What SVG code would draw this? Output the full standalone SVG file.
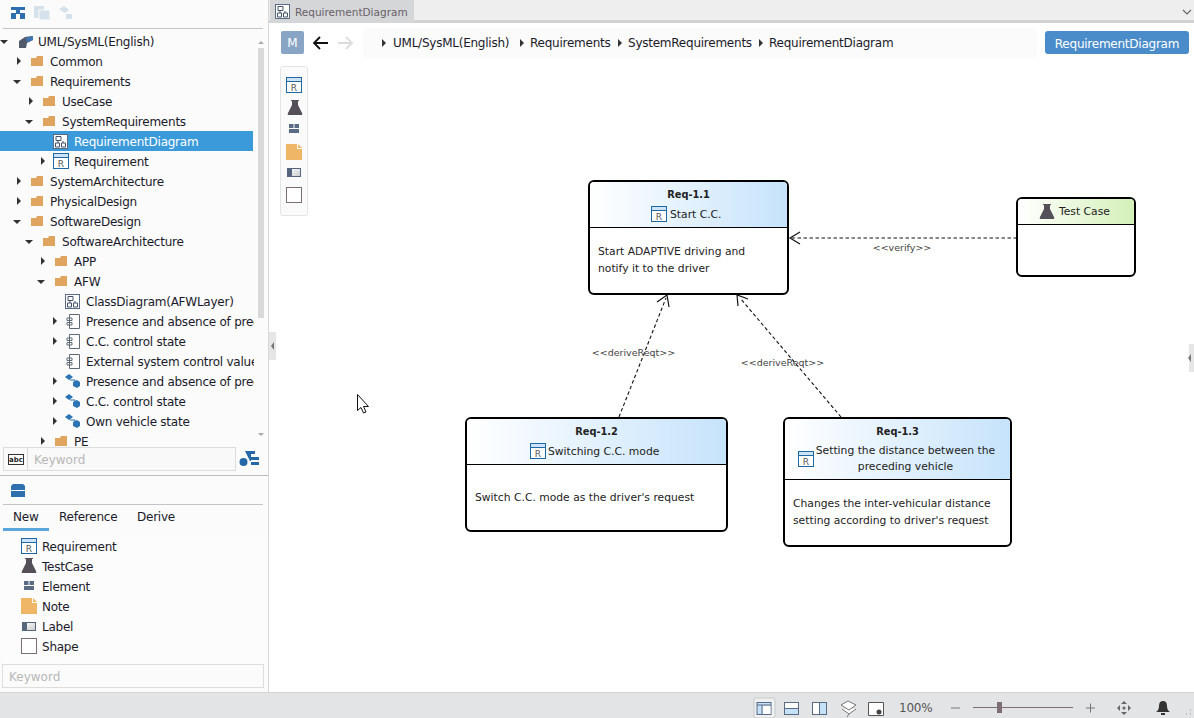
<svg xmlns="http://www.w3.org/2000/svg" width="1194" height="718" viewBox="0 0 1194 718">
<style>
text{font-family:"DejaVu Sans","Liberation Sans",sans-serif;font-size:12px;fill:#1a1a2a}
.t{font-size:12px;letter-spacing:-.24px}
.w{fill:#fff}
.ph{fill:#b8b8b8}
.n{font-size:10.75px;fill:#222}
.h{font-size:10.75px;fill:#222}
.b{font-size:9.8px;font-weight:bold;fill:#222}
.lab{font-size:9.5px;fill:#444;text-anchor:middle}
.m{text-anchor:middle}
.box{fill:#fff;stroke:#000;stroke-width:2}
.sep{stroke:#000;stroke-width:1}
.dash{fill:none;stroke:#111;stroke-width:1.1;stroke-dasharray:3.5 2.5}
.head{fill:none;stroke:#111;stroke-width:1.2}
</style>
<defs>
<linearGradient id="gb" x1="0" x2="1" y1="0" y2="0"><stop offset="0" stop-color="#fff"/><stop offset="1" stop-color="#c6e3fb"/></linearGradient>
<linearGradient id="gg" x1="0" x2="1" y1="0" y2="0"><stop offset="0" stop-color="#fff"/><stop offset="1" stop-color="#d4f0b8"/></linearGradient>
<linearGradient id="lg" x1="0" x2="1" y1="0" y2="1"><stop offset="0" stop-color="#fff"/><stop offset="1" stop-color="#ccc"/></linearGradient>
<symbol id="folder" overflow="visible"><path d="M0 3h5l1-2h6v10H0z" fill="#dfa55f"/></symbol>
<symbol id="right" overflow="visible"><path d="M0-4 4 0 0 4z" fill="#333"/></symbol>
<symbol id="down" overflow="visible"><path d="M-4-2H4L0 2z" fill="#333"/></symbol>
<symbol id="req" overflow="visible"><rect x=".5" y=".5" width="15" height="15" fill="#fff" stroke="#1d69a8"/><rect x="1" y="1" width="14" height="3" fill="#cfe3f4"/><path d="M1 4.500h14" stroke="#1d69a8"/><text x="8" y="14" class="m" style="font-size:9px;fill:#555">R</text></symbol>
<symbol id="flask" overflow="visible"><path d="M4 0h8v1h-1v4l4 8q1 2-1 2H2q-2 0-1-2l4-8V1H4z" fill="#544f58"/></symbol>
<symbol id="elem" overflow="visible"><path d="M0 0h4.500v4H0zM5.500 0h4.500v4H5.500zM0 5h10v4H0z" fill="#5a6b85"/></symbol>
<symbol id="note" overflow="visible"><path d="M0 0h11v5h5v11H0zM12 0l4 4h-4z" fill="#efb665"/></symbol>
<symbol id="label" overflow="visible"><rect x=".5" y=".5" width="13" height="8" fill="url(#lg)" stroke="#56667f"/><rect width="5" height="9" fill="#56667f"/></symbol>
<symbol id="shape" overflow="visible"><rect x=".5" y=".5" width="15" height="15" fill="#fff" stroke="#7d6d75"/></symbol>
<symbol id="diag" overflow="visible"><rect x=".5" y=".5" width="14" height="14" fill="#fff" stroke="#5a6b85"/><path d="M3 2.500h5v4H3zM2.500 9h4v4h-4zM8.500 9h4v4h-4zM5 6.500V9M10 7v2" fill="none" stroke="#44546c"/></symbol>
<symbol id="comp" overflow="visible"><path d="M3.500 .5h10v14h-10zM1 4h5v2.500H1zM1 8.500h5V11H1z" fill="#fff" stroke="#5f6a78"/></symbol>
<symbol id="pkg" overflow="visible"><path d="M0 3 4 0l4 3-4 3zM8 8l4-2 3 2v4l-3 2-4-2z" fill="#2c74b3"/><path d="M5 6h5v3" fill="none" stroke="#2c74b3"/></symbol>
</defs>

<rect width="1194" height="718" fill="#fff"/>

<g id="left-panel">
<rect width="268" height="692" fill="#fbfbfb"/>
<path d="M11 7h14v3h-5v3h5v6h-5v-5h-4v5h-5v-6h5v-3h-5z" fill="#2e6fb0"/>
<g opacity=".35" fill="#8fb3cf"><rect x="34" y="6" width="10" height="12"/><rect x="39" y="10" width="11" height="10" stroke="#fff"/><path d="M59 9l5-3 5 4-4 3zM66 14h6v5h-6z"/></g>
<path d="M3 28.500h260" stroke="#c4c4c4"/>
<rect x="0" y="131" width="253" height="20" fill="#3b9ad9"/>
<rect x="258" y="48" width="6" height="270" fill="#d9d9d9"/>
<path d="M258 44h6l-3-3zM258 433h6l-3 3z" fill="#aaa"/>

<g id="tree-icons">
<use href="#down" x="4" y="42"/>
<path d="M19 41l6-4 7-1 1 4-6 3-1 5-7 0z" fill="#505a6b"/><path d="M26 38l7-2 0 4-6 2z" fill="#3d78b5"/>
<use href="#right" x="17" y="61"/><use href="#folder" x="31" y="55"/>
<use href="#down" x="17" y="82"/><use href="#folder" x="31" y="75"/>
<use href="#right" x="29" y="101"/><use href="#folder" x="43" y="95"/>
<use href="#down" x="29" y="122"/><use href="#folder" x="43" y="115"/>
<use href="#diag" x="53" y="134"/>
<use href="#right" x="41" y="161"/><use href="#req" x="53" y="153"/>
<use href="#right" x="17" y="181"/><use href="#folder" x="31" y="175"/>
<use href="#right" x="17" y="201"/><use href="#folder" x="31" y="195"/>
<use href="#down" x="17" y="222"/><use href="#folder" x="31" y="215"/>
<use href="#down" x="29" y="242"/><use href="#folder" x="43" y="235"/>
<use href="#right" x="41" y="261"/><use href="#folder" x="55" y="255"/>
<use href="#down" x="41" y="282"/><use href="#folder" x="55" y="275"/>
<use href="#diag" x="65" y="294"/>
<use href="#right" x="53" y="321"/><use href="#comp" x="66" y="314"/>
<use href="#right" x="53" y="341"/><use href="#comp" x="66" y="334"/>
<use href="#comp" x="66" y="354"/>
<use href="#right" x="53" y="381"/><use href="#pkg" x="65" y="374"/>
<use href="#right" x="53" y="401"/><use href="#pkg" x="65" y="394"/>
<use href="#right" x="53" y="421"/><use href="#pkg" x="65" y="414"/>
<use href="#right" x="41" y="441"/><use href="#folder" x="55" y="435"/>
</g>
<g id="tree-text">
<text class="t" x="38" y="46">UML/SysML(English)</text>
<text class="t" x="50" y="66">Common</text>
<text class="t" x="50" y="86">Requirements</text>
<text class="t" x="62" y="106">UseCase</text>
<text class="t" x="62" y="126">SystemRequirements</text>
<text class="t w" x="74" y="146">RequirementDiagram</text>
<text class="t" x="74" y="166">Requirement</text>
<text class="t" x="50" y="186">SystemArchitecture</text>
<text class="t" x="50" y="206">PhysicalDesign</text>
<text class="t" x="50" y="226">SoftwareDesign</text>
<text class="t" x="62" y="246">SoftwareArchitecture</text>
<text class="t" x="74" y="266">APP</text>
<text class="t" x="74" y="286">AFW</text>
<text class="t" x="86" y="306">ClassDiagram(AFWLayer)</text>
<svg x="0" y="310" width="254" height="125" viewBox="0 310 254 125">
<text class="t" x="86" y="326">Presence and absence of preceding vehicle</text>
<text class="t" x="86" y="346">C.C. control state</text>
<text class="t" x="86" y="366">External system control value</text>
<text class="t" x="86" y="386">Presence and absence of preceding vehicle</text>
<text class="t" x="86" y="406">C.C. control state</text>
<text class="t" x="86" y="426">Own vehicle state</text>
</svg>
<text class="t" x="74" y="446">PE</text>
</g>

<rect y="446" width="268" height="30" fill="#fbfbfb"/>
<rect x="3.500" y="447.500" width="232" height="23" fill="#f8f9f8" stroke="#ddd"/>
<path d="M27.500 448v22" stroke="#ddd"/>
<rect x="8.500" y="454.500" width="15" height="10" fill="#fff" stroke="#333"/>
<text x="16" y="462" class="m" style="font-size:7px;font-weight:bold;fill:#222">abc</text>
<text class="ph" x="34" y="464">Keyword</text>
<path d="M245 451h10v3h-4v3h8v3h-8v2h8v3h-8v-4h-1M243.500 458a4 4 0 1 1 0 8a4 4 0 1 1 0-8z" fill="#2468a8"/>
<path d="M0 475.500h268" stroke="#bcbcbc"/>
<path d="M11 486l2-2h10l2 2v11H11z" fill="#2e6fb0"/><path d="M11 490.500h14" stroke="#fff"/>
<path d="M3 504.500h260" stroke="#c4c4c4"/>
<text class="t" x="13" y="521">New</text>
<text class="t" x="59" y="521">Reference</text>
<text class="t" x="137" y="521">Derive</text>
<rect x="3" y="528" width="46" height="3" fill="#5aa5dc"/>
</g>

<g id="toolbox-list">
<rect x="2" y="535" width="264" height="128" fill="#fcfcfc"/>
<use href="#req" x="21" y="538"/><text class="t" x="42" y="551">Requirement</text>
<use href="#flask" x="21" y="558"/><text class="t" x="42" y="571">TestCase</text>
<use href="#elem" x="24" y="581"/><text class="t" x="42" y="591">Element</text>
<use href="#note" x="21" y="598"/><text class="t" x="42" y="611">Note</text>
<use href="#label" x="22" y="622"/><text class="t" x="42" y="631">Label</text>
<use href="#shape" x="21" y="638"/><text class="t" x="42" y="651">Shape</text>
<rect x="2.500" y="664.500" width="261" height="23" fill="#fbfbfb" stroke="#ddd"/>
<text class="ph" x="9" y="681">Keyword</text>
</g>

<g id="top-bar">
<rect x="268" y="0" width="926" height="20" fill="#eee"/>
<rect x="268" y="20" width="926" height="3" fill="#d2d2d2"/>
<rect x="270" y="0" width="144" height="23" fill="#d4d6d8"/>
<use href="#diag" x="275" y="4"/>
<text x="295" y="16" style="font-size:10.5px;fill:#6b5f68">RequirementDiagram</text>
<path d="M1183 10l4 4 4-4" fill="none" stroke="#666" stroke-width="1.200"/>
<rect x="281" y="31" width="23" height="23" rx="2" fill="#88a5c6"/>
<text x="292.500" y="47" class="m w">M</text>
<path d="M328 43h-14M320 37l-6 6 6 6" fill="none" stroke="#111" stroke-width="1.800"/>
<path d="M338 43h14M346 37l6 6-6 6" fill="none" stroke="#ddd" stroke-width="1.800"/>
<rect x="363" y="28" width="674" height="30" rx="5" fill="#fbfbfb"/>
<use href="#right" x="382" y="43"/>
<text class="t" x="393" y="47">UML/SysML(English)</text>
<use href="#right" x="520" y="43"/>
<text class="t" x="530" y="47">Requirements</text>
<use href="#right" x="618" y="43"/>
<text class="t" x="628" y="47">SystemRequirements</text>
<use href="#right" x="759" y="43"/>
<text class="t" x="769" y="47">RequirementDiagram</text>
<rect x="1045" y="31" width="144" height="23" rx="3" fill="#4a8cca"/>
<text class="t w m" x="1117" y="48">RequirementDiagram</text>
</g>

<g id="palette">
<rect x="280.500" y="66.500" width="27" height="149" rx="2" fill="#fafafa" stroke="#e4e4e4"/>
<use href="#req" x="286" y="77"/>
<use href="#flask" x="287" y="100"/>
<use href="#elem" x="289" y="124"/>
<use href="#note" x="286" y="144"/>
<use href="#label" x="287" y="168"/>
<use href="#shape" x="286" y="187"/>
</g>

<g id="connectors">
<path class="dash" d="M1017 238H792"/>
<path class="head" d="M800 232l-10 6 10 6"/>
<path class="dash" d="M619 417 666 298"/>
<path class="head" d="M657 302l10-7 2 12"/>
<path class="dash" d="M841 417 740 298"/>
<path class="head" d="M738 306l-1-11 11 4"/>
<text class="lab" x="902" y="251">&lt;&lt;verify&gt;&gt;</text>
<text class="lab" x="633.500" y="356">&lt;&lt;deriveReqt&gt;&gt;</text>
<text class="lab" x="782.500" y="366">&lt;&lt;deriveReqt&gt;&gt;</text>
</g>

<g id="req-1-1">
<rect class="box" x="589" y="181" width="199" height="113" rx="5"/>
<path d="M590 227V186q0-4 4-4h189q4 0 4 4v41z" fill="url(#gb)"/>
<path class="sep" d="M589 227.500h199"/>
<text class="b m" x="688.500" y="198">Req-1.1</text>
<use href="#req" x="651" y="206"/>
<text class="h" x="670" y="218">Start C.C.</text>
<text class="n" x="598" y="255">Start ADAPTIVE driving and</text>
<text class="n" x="598" y="272">notify it to the driver</text>
</g>

<g id="test-case">
<rect class="box" x="1017" y="198" width="118" height="78" rx="5"/>
<path d="M1018 224V203q0-4 4-4h108q4 0 4 4v21z" fill="url(#gg)"/>
<path class="sep" d="M1017 224.500h118"/>
<use href="#flask" x="1039" y="204"/>
<text class="h" x="1059" y="215">Test Case</text>
</g>

<g id="req-1-2">
<rect class="box" x="466" y="418" width="261" height="113" rx="5"/>
<path d="M467 464V423q0-4 4-4h251q4 0 4 4v41z" fill="url(#gb)"/>
<path class="sep" d="M466 464.500h261"/>
<text class="b m" x="596.500" y="435">Req-1.2</text>
<use href="#req" x="530" y="443"/>
<text class="h" x="548" y="455">Switching C.C. mode</text>
<text class="n" x="475" y="501">Switch C.C. mode as the driver's request</text>
</g>

<g id="req-1-3">
<rect class="box" x="784" y="418" width="227" height="128" rx="5"/>
<path d="M785 479V423q0-4 4-4h217q4 0 4 4v56z" fill="url(#gb)"/>
<path class="sep" d="M784 479.500h227"/>
<text class="b m" x="897.500" y="435">Req-1.3</text>
<use href="#req" x="798" y="451"/>
<text class="h m" x="905.500" y="454">Setting the distance between the</text>
<text class="h m" x="905.500" y="470">preceding vehicle</text>
<text class="n" x="793" y="507">Changes the inter-vehicular distance</text>
<text class="n" x="793" y="524">setting according to driver's request</text>
</g>

<g id="chrome">
<path d="M268.500 0V692" stroke="#d8d8d8"/>
<rect x="269" y="332" width="7" height="28" fill="#e6e6e6"/>
<path d="M274 342l-3 4 3 4z" fill="#777"/>
<rect x="1189" y="344" width="5" height="28" fill="#e6e6e6"/>
<path d="M1191 354l-3 4 3 4z" fill="#777"/>
<path d="M357.500 394.500v16l3.500-3 2.500 5.500 2.500-1-2.500-5.500h5z" fill="#fff" stroke="#111"/>
</g>

<g id="status-bar">
<rect y="692" width="1194" height="26" fill="#e3e4e6"/>
<path d="M0 692.500h1194" stroke="#d4d4d4"/>
<rect x="754" y="698" width="21" height="20" rx="2" fill="#eef0f2" stroke="#c8c8c8"/>
<rect x="757" y="702.500" width="14" height="12" fill="#c5e1f5" stroke="#5a6b85"/><path d="M757 705h14M762 705v9" stroke="#5a6b85"/><rect x="763" y="706" width="7.500" height="8" fill="#fff"/>
<rect x="784.500" y="702.500" width="14" height="12" fill="#fff" stroke="#5a6b85"/><rect x="785" y="709" width="13" height="5" fill="#c5e1f5"/><path d="M784.500 708.500h14" stroke="#5a6b85"/>
<rect x="812.500" y="702.500" width="14" height="12" fill="#fff" stroke="#5a6b85"/><rect x="820" y="703" width="6" height="11" fill="#c5e1f5"/><path d="M819.500 702.500v12" stroke="#5a6b85"/>
<path d="M841 705l7-4 8 4-7 5zM842 709l7 5 7-5M849 714l-2 3" fill="#fff" stroke="#777"/>
<path d="M868.500 702.500h15v13h-15z" fill="#fff" stroke="#555"/><circle cx="879" cy="712" r="2.500" fill="#444"/>
<text class="t" x="899" y="712" style="fill:#555">100%</text>
<path d="M951 708h9M1086 708h9M1090.500 703.500v9" stroke="#777"/>
<path d="M973 707.500h100" stroke="#7d6d75"/>
<rect x="997" y="702" width="5" height="11" fill="#7d6d75"/>
<path d="M1124 701l3 3h-6zM1124 715l3-3h-6zM1117 708l3-3v6zM1131 708l-3-3v6z" fill="#666"/><circle cx="1124" cy="708" r="1.500" fill="#666"/>
<path d="M1156 712q3-2 3-6q0-5 4-5t4 5q0 4 3 6zM1161 713h4v2h-4z" fill="#333"/>
<path d="M1190 714h1M1186 714h1M1190 710h1" stroke="#999"/>
</g>
</svg>
